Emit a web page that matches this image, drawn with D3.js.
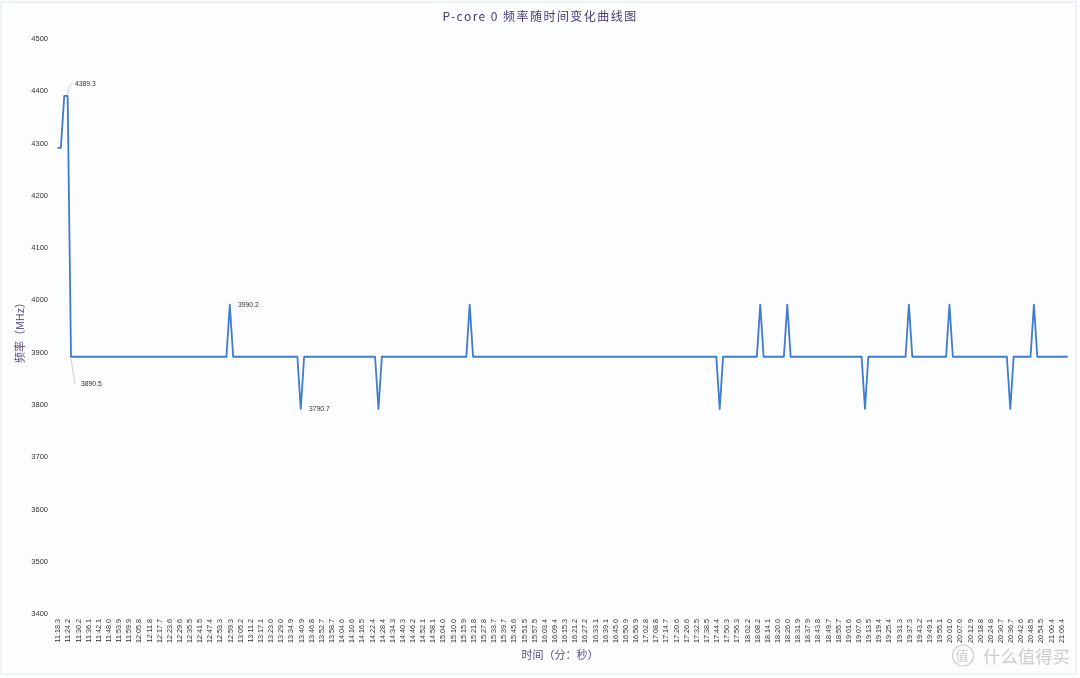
<!DOCTYPE html>
<html><head><meta charset="utf-8">
<script src="https://cdn.jsdelivr.net/npm/d3@7"></script>
<style>
html,body{margin:0;padding:0;background:#fff;}
svg{display:block;}
.soft{filter:blur(0.6px);}
</style></head><body>
<svg id="c" width="1080" height="678"></svg>
<script>
const titleText = "P-core 0 频率随时间变化曲线图";
const xTitle = "时间（分：秒）";
const yTitle = "频率（MHz）";
const yTicks = [4500,4400,4300,4200,4100,4000,3900,3800,3700,3600,3500,3400];
const tickLabels = [
"11:18.3","11:24.2","11:30.2","11:36.1","11:42.1","11:48.0","11:53.9","11:59.9","12:05.8","12:11.8",
"12:17.7","12:23.6","12:29.6","12:35.5","12:41.5","12:47.4","12:53.3","12:59.3","13:05.2","13:11.2",
"13:17.1","13:23.0","13:29.0","13:34.9","13:40.9","13:46.8","13:52.7","13:58.7","14:04.6","14:10.6",
"14:16.5","14:22.4","14:28.4","14:34.3","14:40.3","14:46.2","14:52.1","14:58.1","15:04.0","15:10.0",
"15:15.9","15:21.8","15:27.8","15:33.7","15:39.7","15:45.6","15:51.5","15:57.5","16:03.4","16:09.4",
"16:15.3","16:21.2","16:27.2","16:33.1","16:39.1","16:45.0","16:50.9","16:56.9","17:02.8","17:08.8",
"17:14.7","17:20.6","17:26.6","17:32.5","17:38.5","17:44.4","17:50.3","17:56.3","18:02.2","18:08.2",
"18:14.1","18:20.0","18:26.0","18:31.9","18:37.9","18:43.8","18:49.7","18:55.7","19:01.6","19:07.6",
"19:13.5","19:19.4","19:25.4","19:31.3","19:37.3","19:43.2","19:49.1","19:55.1","20:01.0","20:07.0",
"20:12.9","20:18.8","20:24.8","20:30.7","20:36.7","20:42.6","20:48.5","20:54.5","21:00.4","21:06.4"];
const B = 3890.5, U = 3990.2, D = 3790.7;
const values = [
4290,4290,4389.3,4389.3,B,B,B,B,B,B,B,B,B,B,B,B,B,B,B,B,B,B,B,B,B,B,B,B,B,B,
B,B,B,B,B,B,B,B,B,B,B,B,B,B,B,B,B,B,B,B,B,U,B,B,B,B,B,B,B,B,
B,B,B,B,B,B,B,B,B,B,B,B,D,B,B,B,B,B,B,B,B,B,B,B,B,B,B,B,B,B,
B,B,B,B,B,D,B,B,B,B,B,B,B,B,B,B,B,B,B,B,B,B,B,B,B,B,B,B,B,B,
B,B,U,B,B,B,B,B,B,B,B,B,B,B,B,B,B,B,B,B,B,B,B,B,B,B,B,B,B,B,
B,B,B,B,B,B,B,B,B,B,B,B,B,B,B,B,B,B,B,B,B,B,B,B,B,B,B,B,B,B,
B,B,B,B,B,B,B,B,B,B,B,B,B,B,B,B,D,B,B,B,B,B,B,B,B,B,B,B,U,B,
B,B,B,B,B,B,U,B,B,B,B,B,B,B,B,B,B,B,B,B,B,B,B,B,B,B,B,B,B,D,
B,B,B,B,B,B,B,B,B,B,B,B,U,B,B,B,B,B,B,B,B,B,B,B,U,B,B,B,B,B,
B,B,B,B,B,B,B,B,B,B,B,B,D,B,B,B,B,B,B,U,B,B,B,B,B,B,B,B,B,B
];
const callouts = [
 {i:3, v:4389.3, text:"4389.3", lx:75, ly:84, leader:true},
 {i:4, v:3890.5, text:"3890.5", lx:81, ly:384, leader:true},
 {i:51,v:3990.2, text:"3990.2", lx:238, ly:305, leader:false},
 {i:72,v:3790.7, text:"3790.7", lx:309, ly:409, leader:false}
];
</script>
<script>
const svg = d3.select("#c");
svg.append("rect").attr("width",1080).attr("height",678).attr("fill","#ffffff");
svg.append("rect").attr("x",1).attr("y",2).attr("width",1075).attr("height",672)
   .attr("fill","#fbfdfe").attr("stroke","#e8f0f4").attr("stroke-width",1.5);

const idx = d3.range(values.length);
const x = d3.scalePoint().domain(idx).range([57.5,1067.7]);
const y = d3.scaleLinear().domain([3400,4500]).range([613.3,38]);
const root = svg.append("g").attr("class","soft");

const yAxis = root.append("g").attr("transform","translate(48,0)")
  .call(d3.axisLeft(y).tickValues(yTicks).tickSize(0).tickPadding(0).tickFormat(d3.format("d")));
yAxis.select(".domain").remove();
yAxis.selectAll("text").attr("font-family","Liberation Sans").attr("font-size",7.5).attr("fill","#333");

const labelIdx = tickLabels.map((_,k)=>k*3);
const xAxis = root.append("g").attr("transform","translate(0,614)")
  .call(d3.axisBottom(x).tickValues(labelIdx).tickSize(0).tickFormat(d=>tickLabels[d/3]));
xAxis.select(".domain").remove();
xAxis.selectAll("text")
  .attr("transform","rotate(-90)").attr("text-anchor","end")
  .attr("x",-5).attr("y",0).attr("dy","0.32em")
  .attr("font-family","Liberation Sans").attr("font-size",7.2).attr("fill","#333");

root.append("path").datum(values)
  .attr("fill","none").attr("stroke","#3f7bcf").attr("stroke-width",1.8).attr("stroke-linejoin","round")
  .attr("d",d3.line().x((d,i)=>x(i)).y(d=>y(d)));

root.selectAll(".callout").data(callouts).join("text").attr("class","callout")
  .attr("x",d=>d.lx).attr("y",d=>d.ly).attr("dy","0.32em")
  .attr("font-family","Liberation Sans").attr("font-size",6.8).attr("fill","#333")
  .text(d=>d.text);
root.selectAll(".leader").data(callouts.filter(d=>d.leader)).join("path").attr("class","leader")
  .attr("fill","none").attr("stroke","#bbb").attr("stroke-width",0.7)
  .attr("d",d=>{
    const px=x(d.i), py=y(d.v)+(d.v>4000?-2:2);
    return d.v>4000
      ? d3.line().curve(d3.curveBasis)([[px,py],[px+1.5,(py+d.ly)/2],[px+1.5,d.ly],[d.lx-2,d.ly]])
      : d3.line()([[px,py],[d.lx-6,d.ly]]);
  });

root.append("text").attr("x",540).attr("y",17).attr("dy","0.35em").attr("text-anchor","middle")
  .attr("font-family","Noto Sans CJK SC").attr("font-size",12).attr("letter-spacing",1.45)
  .attr("fill","#4a3a70").text(titleText);
root.append("text").attr("x",560).attr("y",655).attr("dy","0.35em").attr("text-anchor","middle")
  .attr("font-family","Noto Sans CJK SC").attr("font-size",11).attr("fill","#5f4f80").text(xTitle);
root.append("text").attr("transform","translate(20,330) rotate(-90)").attr("dy","0.35em").attr("text-anchor","middle")
  .attr("font-family","Noto Sans CJK SC").attr("font-size",11).attr("fill","#5f4f80").text(yTitle);

const wm = svg.append("g").attr("class","soft");
wm.append("circle").attr("cx",963).attr("cy",655.5).attr("r",10.5).attr("fill","none").attr("stroke","#cfcfcf").attr("stroke-width",1.2);
wm.append("text").attr("x",962).attr("y",655.5).attr("dy","0.35em").attr("text-anchor","middle")
  .attr("font-family","Noto Sans CJK SC").attr("font-size",13).attr("fill","#cdcdcd").text("值");
wm.append("text").attr("x",983).attr("y",657).attr("dy","0.35em")
  .attr("font-family","Noto Sans CJK SC").attr("font-size",17.4).attr("fill","#cdcdcd").text("什么值得买");
</script>
</body></html>
